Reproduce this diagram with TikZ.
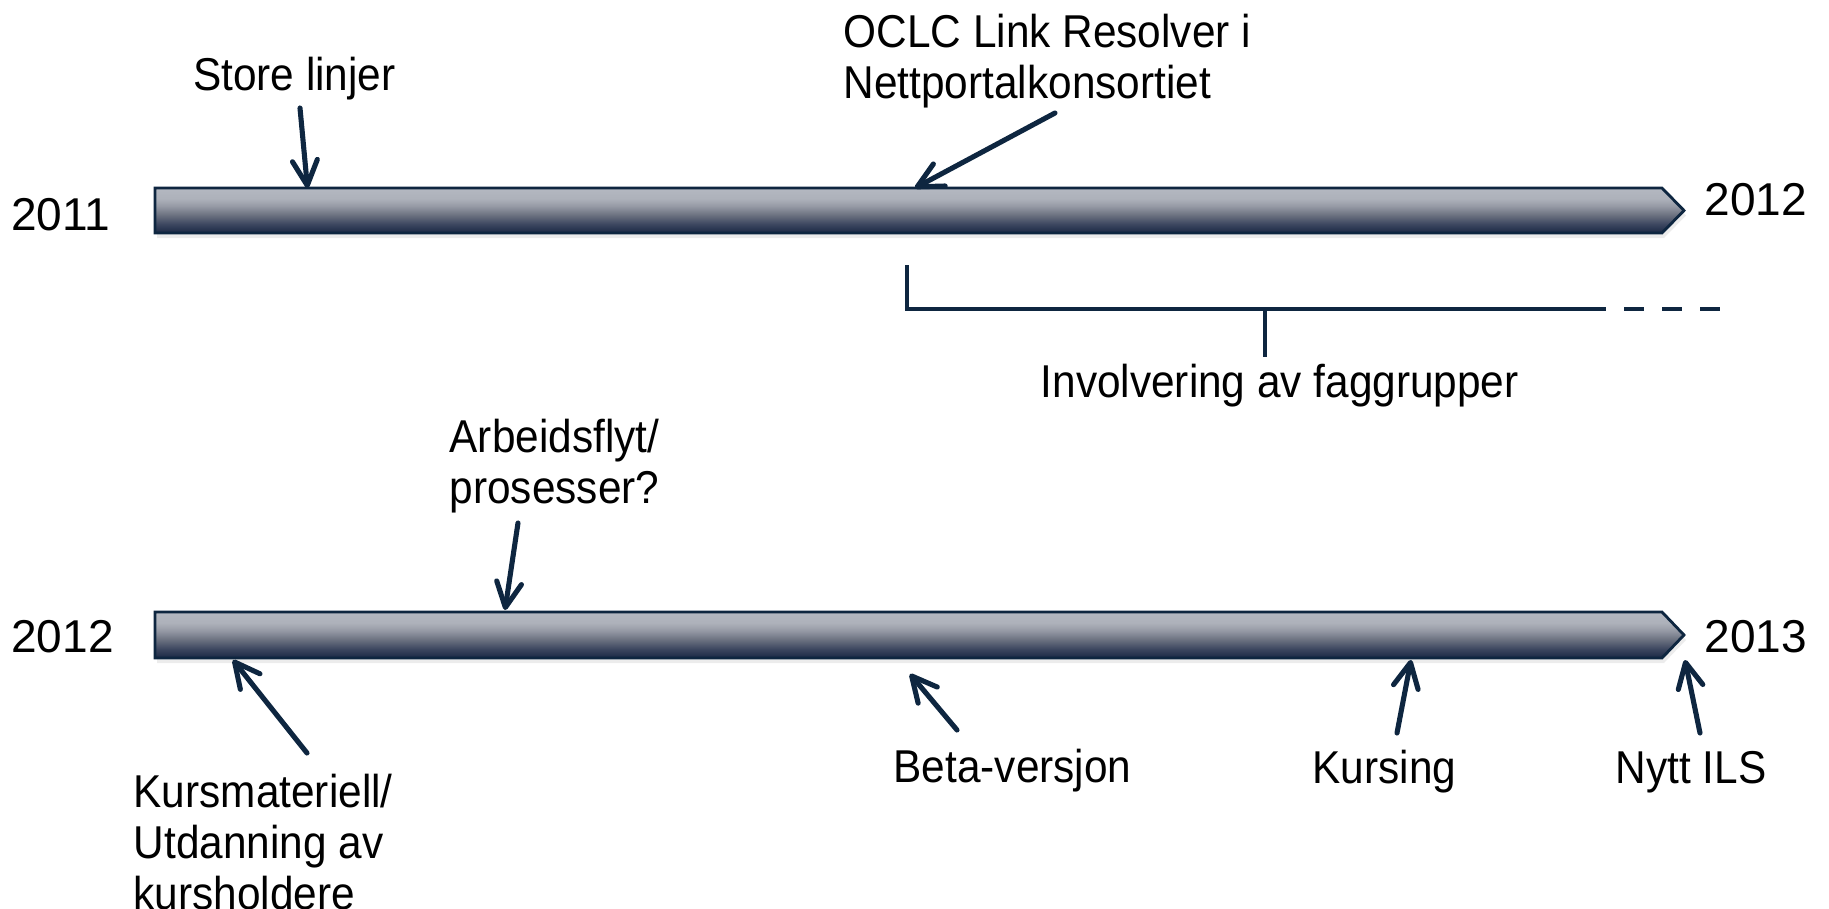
\documentclass[tikz,border=0pt]{standalone}
\usepackage{fontspec}
\setmainfont{Liberation Sans}[FakeStretch=0.92]
\newfontfamily\yearfont{Liberation Sans}
\usetikzlibrary{arrows.meta,shadows}
\definecolor{navy}{HTML}{0E2640}
\definecolor{barA}{HTML}{1A2844}
\definecolor{barB}{HTML}{3D4760}
\definecolor{barC}{HTML}{6B7180}
\definecolor{barD}{HTML}{969AA5}
\definecolor{barE}{HTML}{ADB1BA}
\definecolor{barF}{HTML}{B4B8C1}
\pgfdeclareverticalshading{barshade}{100bp}{color(0bp)=(barA); color(25bp)=(barA);
	color(35bp)=(barB); color(45bp)=(barC); color(55bp)=(barD);
	color(63bp)=(barE); color(75bp)=(barF); color(100bp)=(barF)}

\begin{document}
\begin{tikzpicture}
	\useasboundingbox (0,0) rectangle (18.29,-9.09);
	\tikzstyle{Label}=[inner sep=0pt,font=\fontsize{13.1}{14.6}\selectfont,align=left]
	\tikzstyle{Year}=[inner sep=0pt,font=\yearfont\fontsize{13.1}{14.6}\selectfont,anchor=base west]
	\tikzstyle{Bar}=[draw=navy,line width=0.8pt,shading=barshade,
		drop shadow={opacity=0.15,shadow xshift=0.02,shadow yshift=-0.05}]
	\tikzstyle{Pointer}=[navy,line width=1.45pt,line cap=round,-{Straight Barb[length=2.5mm,width=2.5mm,round]}]
	\tikzstyle{Span}=[navy,line width=1.4pt]
	% the two year bars
	\path[Bar] (1.55,-1.88) -- (16.62,-1.88) -- (16.84,-2.105) -- (16.62,-2.33) -- (1.55,-2.33) -- cycle;
	\path[Bar] (1.55,-6.12) -- (16.62,-6.12) -- (16.84,-6.35) -- (16.62,-6.58) -- (1.55,-6.58) -- cycle;
	\node[Year] (y2011) at (0.105,-2.30) {2011};
	\node[Year] (y2012a) at (17.04,-2.15) {2012};
	\node[Year] (y2012b) at (0.105,-6.52) {2012};
	\node[Year] (y2013) at (17.04,-6.52) {2013};
	% events
	\node[Label,anchor=base west] (store) at (1.925,-0.90) {Store linjer};
	\node[Label,anchor=north west] (oclc) at (8.43,-0.13) {OCLC Link Resolver i\\Nettportalkonsortiet};
	\node[Label,anchor=north west] (arb) at (4.49,-4.18) {Arbeidsflyt/\\prosesser?};
	\node[Label,anchor=north west] (kmat) at (1.33,-7.73) {Kursmateriell/\\Utdanning av\\kursholdere};
	\node[Label,anchor=base west] (involv) at (10.40,-3.97) {Involvering av faggrupper};
	\node[Label,anchor=base west] (beta) at (8.93,-7.82) {Beta-versjon};
	\node[Label,anchor=base west] (kurs) at (13.12,-7.83) {Kursing};
	\node[Label,anchor=base west] (ils) at (16.15,-7.83) {Nytt ILS};
	% arrow ends
	\coordinate (store-t) at (3.00,-1.08);   \coordinate (store-h) at (3.075,-1.88);
	\coordinate (oclc-t) at (10.55,-1.13);   \coordinate (oclc-h) at (9.15,-1.88);
	\coordinate (arb-t) at (5.18,-5.23);     \coordinate (arb-h) at (5.05,-6.10);
	\coordinate (kmat-t) at (3.07,-7.53);    \coordinate (kmat-h) at (2.33,-6.60);
	\coordinate (beta-t) at (9.57,-7.30);    \coordinate (beta-h) at (9.10,-6.74);
	\coordinate (kurs-t) at (13.97,-7.33);   \coordinate (kurs-h) at (14.11,-6.60);
	\coordinate (ils-t) at (17.00,-7.33);    \coordinate (ils-h) at (16.85,-6.60);
	\foreach \e in {store,oclc,arb,kmat,beta,kurs,ils}
		\draw[Pointer] (\e-t) -- (\e-h);
	% span of the group work
	\coordinate (span-a) at (9.07,-2.65);
	\coordinate (span-b) at (9.07,-3.09);
	\coordinate (span-c) at (16.06,-3.09);
	\coordinate (span-d) at (16.24,-3.09);
	\coordinate (span-e) at (17.20,-3.09);
	\coordinate (tick-a) at (12.65,-3.09);
	\coordinate (tick-b) at (12.65,-3.57);
	\draw[Span] (span-a) -- (span-b) -- (span-c);
	\draw[Span,dash pattern=on 0.2cm off 0.18cm] (span-d) -- (span-e);
	\draw[Span] (tick-a) -- (tick-b);
\end{tikzpicture}
\end{document}
